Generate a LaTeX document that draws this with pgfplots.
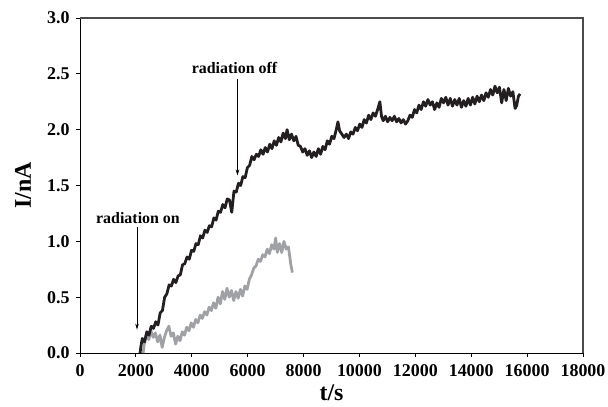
\documentclass[border=0pt]{standalone}
\usepackage{pgfplots}
\pgfplotsset{compat=1.18}
\usepackage{fontspec}
\setmainfont{Liberation Serif}
\usetikzlibrary{arrows.meta}
\definecolor{curveblack}{RGB}{35,31,32}
\definecolor{curvegrey}{RGB}{160,161,164}
\begin{document}
\begin{tikzpicture}
\path[use as bounding box] (-80bp,-54bp) rectangle (528bp,353bp);
\begin{axis}[
  at={(0,0)}, anchor=south west,
  scale only axis, width=503bp, height=335bp,
  xmin=0, xmax=18000, ymin=0, ymax=3,
  xtick={0,2000,...,18000},
  ytick={0,0.5,...,3.0},
  scaled x ticks=false,
  tick align=outside, tick pos=left,
  major tick length=4bp,
  axis line style={line width=0.9pt, black},
  tick style={line width=0.8pt, black},
  /pgf/number format/assume math mode=true,
  x tick label style={font=\bfseries\fontsize{18}{18}\selectfont, yshift=-4bp, /pgf/number format/1000 sep={}},
  y tick label style={font=\bfseries\fontsize{18}{18}\selectfont, xshift=-3bp, /pgf/number format/.cd, fixed, fixed zerofill, precision=1},
  xlabel={t/s}, ylabel={I/nA},
  label style={font=\bfseries\fontsize{24}{24}\selectfont},
  xlabel style={at={(axis description cs:0.5,-0.1194)}, anchor=center},
  ylabel style={at={(axis description cs:-0.1133,0.5)}, anchor=center},
  clip=false,
]
\addplot[curvegrey, line width=2.8pt, line join=round] coordinates {
(2260,0.00) (2300,0.08) (2380,0.17) (2460,0.12) (2540,0.20) (2620,0.14) (2700,0.18) (2780,0.10)
(2860,0.16) (2940,0.05) (3020,0.14) (3100,0.20) (3180,0.24) (3260,0.15) (3340,0.18) (3420,0.08)
(3500,0.15) (3580,0.11) (3660,0.19) (3740,0.16) (3820,0.23) (3900,0.20) (3980,0.27) (4060,0.23)
(4140,0.30) (4220,0.27) (4300,0.34) (4380,0.31) (4460,0.37) (4540,0.34) (4620,0.41) (4700,0.38)
(4780,0.45) (4860,0.40) (4940,0.50) (5020,0.44) (5100,0.55) (5180,0.48) (5260,0.58) (5340,0.50)
(5420,0.56) (5500,0.47) (5580,0.55) (5660,0.49) (5740,0.57) (5820,0.51) (5900,0.60) (5980,0.57)
(6060,0.66) (6140,0.70) (6220,0.76) (6300,0.78) (6380,0.84) (6460,0.82) (6540,0.88) (6620,0.86)
(6700,0.93) (6780,0.89) (6860,0.97) (6940,0.93) (7000,1.03) (7060,0.90) (7140,0.98) (7220,0.90)
(7300,1.00) (7380,0.93) (7460,0.95) (7540,0.80) (7600,0.72)
};
\addplot[curveblack, line width=2.8pt, line join=round] coordinates {
(2150,0.00) (2180,0.06) (2230,0.13) (2310,0.10) (2390,0.19) (2470,0.16) (2550,0.24) (2630,0.22)
(2710,0.28) (2790,0.25) (2870,0.36) (2950,0.38) (3030,0.50) (3110,0.53) (3190,0.61) (3270,0.60)
(3350,0.66) (3430,0.63) (3510,0.69) (3590,0.70) (3670,0.79) (3750,0.80) (3830,0.86) (3910,0.84)
(3990,0.92) (4070,0.91) (4150,0.98) (4230,0.97) (4310,1.05) (4390,1.03) (4470,1.10) (4550,1.08)
(4630,1.14) (4710,1.13) (4790,1.21) (4870,1.19) (4950,1.27) (5030,1.26) (5110,1.33) (5190,1.30)
(5270,1.38) (5350,1.37) (5430,1.26) (5510,1.45) (5590,1.44) (5670,1.52) (5750,1.50) (5830,1.58)
(5910,1.57) (5990,1.66) (6070,1.68) (6150,1.76) (6230,1.73) (6310,1.78) (6390,1.76) (6470,1.82)
(6550,1.78) (6630,1.84) (6710,1.80) (6790,1.87) (6870,1.83) (6950,1.90) (7030,1.86) (7110,1.93)
(7190,1.89) (7270,1.97) (7350,1.92) (7410,2.00) (7490,1.91) (7570,1.96) (7650,1.90) (7730,1.94)
(7810,1.86) (7890,1.85) (7970,1.80) (8050,1.83) (8130,1.77) (8210,1.81) (8290,1.75) (8370,1.80)
(8450,1.76) (8530,1.83) (8610,1.78) (8690,1.85) (8770,1.82) (8850,1.90) (8930,1.87) (9010,1.94)
(9090,1.92) (9170,2.00) (9230,2.07) (9290,1.99) (9370,1.96) (9450,1.93) (9530,1.96) (9610,1.92)
(9690,1.98) (9770,1.96) (9850,2.02) (9930,1.99) (10010,2.05) (10090,2.02) (10170,2.09) (10250,2.06)
(10330,2.13) (10410,2.09) (10490,2.15) (10570,2.12) (10650,2.18) (10730,2.25) (10790,2.12) (10850,2.08)
(10930,2.12) (11010,2.07) (11090,2.11) (11170,2.08) (11250,2.12) (11330,2.07) (11410,2.10) (11490,2.06)
(11570,2.09) (11650,2.05) (11730,2.08) (11810,2.13) (11890,2.11) (11970,2.18) (12050,2.15) (12130,2.22)
(12210,2.18) (12290,2.25) (12370,2.21) (12450,2.27) (12530,2.22) (12610,2.25) (12690,2.18) (12770,2.24)
(12850,2.20) (12930,2.28) (13010,2.24) (13090,2.29) (13170,2.22) (13250,2.28) (13330,2.21) (13410,2.27)
(13490,2.22) (13570,2.28) (13650,2.20) (13730,2.26) (13810,2.21) (13890,2.28) (13970,2.22) (14050,2.29)
(14130,2.23) (14210,2.30) (14290,2.25) (14370,2.31) (14450,2.26) (14530,2.33) (14610,2.29) (14690,2.36)
(14770,2.31) (14850,2.39) (14930,2.33) (15010,2.38) (15090,2.24) (15170,2.36) (15250,2.26) (15330,2.37)
(15410,2.30) (15490,2.34) (15570,2.19) (15630,2.22) (15690,2.30) (15750,2.32)
};
\draw[gray!60!black, line width=1.1pt] (rel axis cs:0,1) -- (rel axis cs:1,1) -- (rel axis cs:1,0);
\draw[line width=0.5pt, -{Stealth[length=6bp,width=3.5bp]}] (axis cs:2040,1.13) -- (axis cs:2040,0.21);
\node[font=\bfseries\fontsize{16}{16}\selectfont] at (axis cs:2075,1.21) {radiation on};
\draw[line width=0.5pt, -{Stealth[length=6bp,width=3.5bp]}] (axis cs:5636,2.45) -- (axis cs:5636,1.59);
\node[font=\bfseries\fontsize{16}{16}\selectfont] at (axis cs:5529,2.55) {radiation off};
\end{axis}
\end{tikzpicture}
\end{document}
